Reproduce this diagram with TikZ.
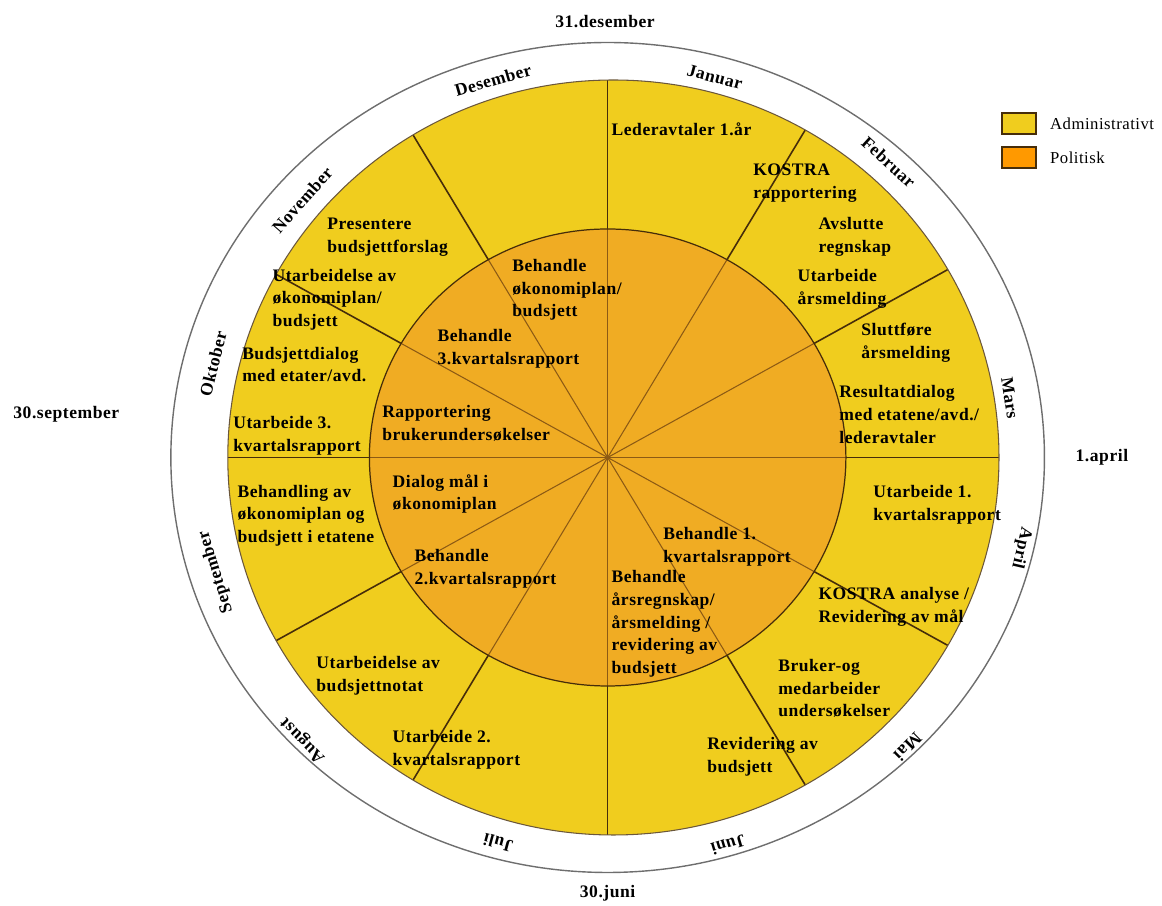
\documentclass[tikz,border=0pt]{standalone}
\usepackage{fontspec}
\setmainfont{Liberation Serif}
\newfontfamily\hjulfont{Liberation Serif}[LetterSpace=3.0]
\usetikzlibrary{positioning}
\definecolor{admgul}{RGB}{240,205,30}
\definecolor{polorange}{RGB}{240,172,35}
\definecolor{legorange}{RGB}{255,153,0}
\definecolor{linjebrun}{RGB}{70,45,10}
\definecolor{linjelys}{RGB}{140,90,20}
\definecolor{ringgraa}{RGB}{110,110,110}

\tikzset{
  aktivitet/.style={font=\hjulfont\bfseries\fontsize{10}{12.9}\selectfont, align=left, anchor=west, inner sep=0pt},
  maaned/.style={font=\hjulfont\bfseries\fontsize{10}{12}\selectfont, inner sep=0pt},
  dato/.style={font=\hjulfont\bfseries\fontsize{10}{12}\selectfont, inner sep=0pt},
  boks/.style={draw=linjebrun, line width=0.8pt, minimum width=0.68cm, minimum height=0.42cm, inner sep=0pt},
  forklaring/.style={font=\hjulfont\fontsize{9.5}{12}\selectfont, inner sep=0pt}
}

\begin{document}
\begin{tikzpicture}[x=1.045cm,y=1cm]
\useasboundingbox (-11.63,-8.97) rectangle (10.61,9.15);

\draw[ringgraa, line width=0.8pt] (0,0) ellipse [x radius=8.36, y radius=8.3];
\fill[admgul] (0.11,0) ellipse [x radius=7.38, y radius=7.55];
\begin{scope}
\clip (0.11,0) ellipse [x radius=7.38, y radius=7.55];
\foreach \vinkel in {0,30,...,330} \draw[linjebrun, line width=0.9pt] (0,0) -- (\vinkel:9);
\end{scope}
\fill[polorange] (0,0) ellipse [x radius=4.56, y radius=4.57];
\foreach \vinkel in {0,30,...,330} \draw[linjelys, line width=0.6pt] (0,0) -- (\vinkel:4.57);
\draw[linjebrun!80, line width=0.6pt] (0.11,0) ellipse [x radius=7.38, y radius=7.55];
\draw[linjebrun, line width=0.7pt] (0,0) ellipse [x radius=4.56, y radius=4.57];

\foreach \vinkel/\radius/\navn in {74.9/7.88/Januar, 47.7/7.99/Februar, 8.8/7.79/Mars, -12.9/8.12/April, -45.2/8.16/Mai, -73.4/8.09/Juni, -105.2/7.99/Juli, -135.9/8.12/August, -163/7.84/September, 166/7.78/Oktober, 138.6/7.79/November, 106.2/7.86/Desember}
  \node[maaned, rotate=\vinkel-90] (m-\navn) at (\vinkel:\radius) {\navn};

\node[dato] (d-des) at (-0.05,8.71) {31.desember};
\node[dato] (d-jun) at (0,-8.71) {30.juni};
\node[dato] (d-sep) at (-10.36,0.87) {30.september};
\node[dato] (d-apr) at (9.46,0.0) {1.april};

\node[aktivitet] (leder) at (0.07,6.57) {Lederavtaler 1.år};
\node[aktivitet] (kostra) at (2.78,5.49) {KOSTRA\\rapportering};
\node[aktivitet] (avslutt) at (4.03,4.41) {Avslutte\\regnskap};
\node[aktivitet] (aarsmeld) at (3.63,3.37) {Utarbeide\\årsmelding};
\node[aktivitet] (sluttfor) at (4.85,2.30) {Sluttføre\\årsmelding};
\node[aktivitet] (resultat) at (4.43,0.86) {Resultatdialog\\med etatene/avd./\\lederavtaler};
\node[aktivitet] (kv1) at (5.08,-0.95) {Utarbeide 1.\\kvartalsrapport};
\node[aktivitet] (kostraana) at (4.03,-2.99) {KOSTRA analyse /\\Revidering av mål};
\node[aktivitet] (bruker) at (3.26,-4.62) {Bruker-og\\medarbeider\\undersøkelser};
\node[aktivitet] (revbud) at (1.90,-5.99) {Revidering av\\budsjett};
\node[aktivitet] (behkv1) at (1.06,-1.79) {Behandle 1.\\kvartalsrapport};
\node[aktivitet] (behregn) at (0.07,-3.33) {Behandle\\årsregnskap/\\årsmelding /\\revidering av\\budsjett};
\node[aktivitet] (kv2) at (-4.12,-5.85) {Utarbeide 2.\\kvartalsrapport};
\node[aktivitet] (notat) at (-5.58,-4.37) {Utarbeidelse av\\budsjettnotat};
\node[aktivitet] (behkv2) at (-3.70,-2.23) {Behandle\\2.kvartalsrapport};
\node[aktivitet] (behetat) at (-7.09,-1.16) {Behandling av\\økonomiplan og\\budsjett i etatene};
\node[aktivitet] (dialogmaal) at (-4.12,-0.73) {Dialog mål i\\økonomiplan};
\node[aktivitet] (kv3) at (-7.17,0.43) {Utarbeide 3.\\kvartalsrapport};
\node[aktivitet] (rapbruker) at (-4.32,0.68) {Rapportering\\brukerundersøkelser};
\node[aktivitet] (budsjdialog) at (-7.00,1.86) {Budsjettdialog\\med etater/avd.};
\node[aktivitet] (behkv3) at (-3.26,2.18) {Behandle\\3.kvartalsrapport};
\node[aktivitet] (utokplan) at (-6.42,3.16) {Utarbeidelse av\\økonomiplan/\\budsjett};
\node[aktivitet] (presenter) at (-5.37,4.41) {Presentere\\budsjettforslag};
\node[aktivitet] (behokplan) at (-1.83,3.35) {Behandle\\økonomiplan/\\budsjett};

\node[boks, fill=admgul] (boks-adm) at (7.875,6.68) {};
\node[boks, fill=legorange] (boks-pol) at (7.875,6.00) {};
\node[forklaring, right=0.26cm of boks-adm] (tekst-adm) {Administrativt};
\node[forklaring, right=0.26cm of boks-pol] (tekst-pol) {Politisk};
\end{tikzpicture}
\end{document}
